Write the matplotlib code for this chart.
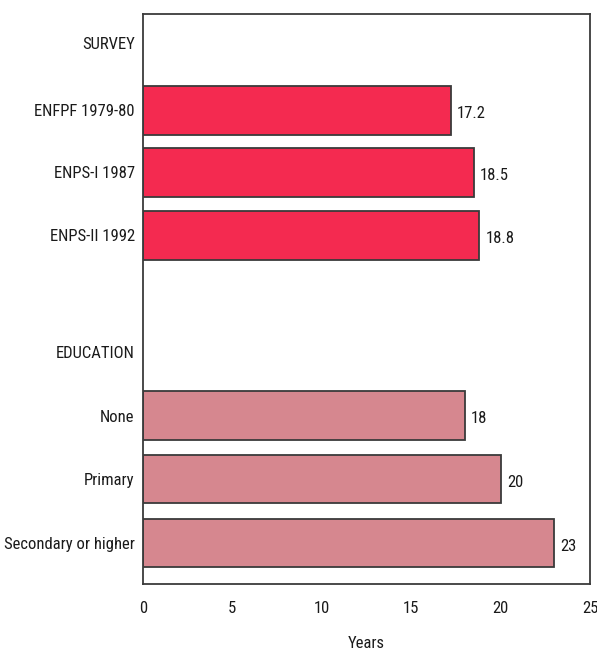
import numpy as np
import matplotlib
matplotlib.use("Agg")
from matplotlib import pyplot as plt

# ---- data ----
survey_labels = ["ENFPF 1979-80", "ENPS-I 1987", "ENPS-II 1992"]
survey_values = [17.2, 18.5, 18.8]
survey_text = ["17.2", "18.5", "18.8"]

edu_labels = ["None", "Primary", "Secondary or higher"]
edu_values = [18, 20, 23]
edu_text = ["18", "20", "23"]

group_titles = ["SURVEY", "EDUCATION"]
xtick_values = [0, 5, 10, 15, 20, 25]

plt.rcParams["font.family"] = ["Roboto Condensed", "Archivo Narrow", "DejaVu Sans"]
FS = 12
TXT = "#1a1a1a"

W, H = 597, 656
fig = plt.figure(figsize=(W / 100, H / 100), dpi=100)
ax_l, ax_r, ax_t, ax_b = 143, 590, 14, 584
ax = fig.add_axes([ax_l / W, 1 - ax_b / H, (ax_r - ax_l) / W, (ax_b - ax_t) / H])

# vertical layout (row positions)
pos_survey_title = -0.06
pos_survey = np.array([1.0, 1.98, 2.98])
pos_edu_title = 4.82
pos_edu = np.array([5.83, 6.83, 7.84])
bar_h = 0.77

ax.barh(pos_survey, survey_values, height=bar_h, color="#f42a50",
        edgecolor="#3a3a3a", linewidth=1.3)
ax.barh(pos_edu, edu_values, height=bar_h, color="#d6878f",
        edgecolor="#3a3a3a", linewidth=1.3)

for p, v, t in zip(pos_survey, survey_values, survey_text):
    ax.text(v + 0.35, p + 0.05, t, ha="left", va="center", fontsize=FS, color=TXT)
for p, v, t in zip(pos_edu, edu_values, edu_text):
    ax.text(v + 0.35, p + 0.05, t, ha="left", va="center", fontsize=FS, color=TXT)

ax.set_xlim(0, 25)
ax.set_ylim(8.49, -0.52)

yt = [pos_survey_title] + list(pos_survey) + [pos_edu_title] + list(pos_edu)
yl = [group_titles[0]] + survey_labels + [group_titles[1]] + edu_labels
ax.set_yticks(yt)
ax.set_yticklabels(yl, fontsize=FS, color=TXT)
ax.set_xticks(xtick_values)
ax.set_xticklabels([str(v) for v in xtick_values], fontsize=FS, color=TXT)
ax.tick_params(axis="both", length=0)
ax.tick_params(axis="y", pad=6)
ax.tick_params(axis="x", pad=12)
ax.set_xlabel("Years", fontsize=FS, color=TXT, labelpad=15)

for s in ax.spines.values():
    s.set_color("#3a3a3a")
    s.set_linewidth(1.3)

fig.savefig("out.png", dpi=100)
